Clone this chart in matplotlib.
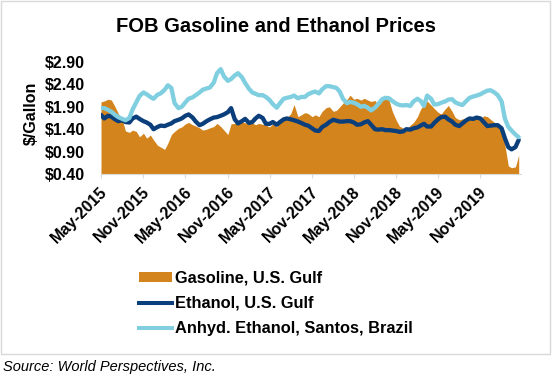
import pandas as pd
import numpy as np
import matplotlib.pyplot as plt
import matplotlib as mpl
from matplotlib.patches import Patch, Rectangle
from matplotlib.lines import Line2D
from matplotlib.transforms import ScaledTranslation

plt.rcParams['font.family'] = ['Liberation Sans', 'DejaVu Sans']

# semi-monthly observations, May 2015 - Apr 2020
dates = pd.date_range("2015-05-01", periods=120, freq="SMS")

gasoline = [2.01, 2.03, 2.07, 2.05, 1.90, 1.75, 1.62, 1.36, 1.33, 1.38,
            1.35, 1.23, 1.31, 1.20, 1.27, 1.16, 1.04, 1.00, 0.95, 1.09,
            1.28, 1.35, 1.42, 1.45, 1.52, 1.55, 1.50, 1.47, 1.43, 1.38,
            1.40, 1.43, 1.46, 1.53, 1.46, 1.38, 1.28, 1.52, 1.53, 1.55,
            1.57, 1.54, 1.57, 1.54, 1.50, 1.53, 1.51, 1.49, 1.45, 1.52,
            1.45, 1.60, 1.62, 1.65, 1.75, 1.95, 1.68, 1.72, 1.77, 1.75,
            1.68, 1.72, 1.68, 1.80, 1.88, 1.90, 1.80, 1.82, 1.90, 1.98,
            2.06, 2.16, 2.07, 2.09, 2.05, 2.09, 2.05, 2.02, 2.04, 1.94,
            2.06, 2.13, 2.04, 1.80, 1.60, 1.47, 1.42, 1.40, 1.49, 1.55,
            1.68, 1.85, 1.95, 2.03, 1.94, 1.86, 1.78, 1.74, 1.85, 1.93,
            1.80, 1.66, 1.61, 1.63, 1.64, 1.62, 1.63, 1.64, 1.62, 1.70,
            1.68, 1.62, 1.55, 1.49, 1.40, 1.05, 0.58, 0.54, 0.56, 0.82]

ethanol_gulf = [1.72, 1.64, 1.70, 1.68, 1.62, 1.58, 1.60, 1.56, 1.55, 1.64,
                1.68, 1.63, 1.58, 1.55, 1.50, 1.40, 1.45, 1.48, 1.47, 1.50,
                1.53, 1.58, 1.61, 1.64, 1.70, 1.73, 1.66, 1.57, 1.49, 1.52,
                1.58, 1.62, 1.66, 1.67, 1.70, 1.73, 1.78, 1.87, 1.62, 1.53,
                1.58, 1.63, 1.54, 1.56, 1.64, 1.70, 1.65, 1.52, 1.52, 1.56,
                1.50, 1.56, 1.62, 1.64, 1.62, 1.60, 1.57, 1.54, 1.50, 1.48,
                1.42, 1.37, 1.36, 1.45, 1.50, 1.56, 1.61, 1.59, 1.57, 1.57,
                1.58, 1.58, 1.55, 1.50, 1.51, 1.55, 1.58, 1.50, 1.40, 1.39,
                1.40, 1.38, 1.38, 1.37, 1.36, 1.34, 1.35, 1.40, 1.39, 1.42,
                1.44, 1.48, 1.52, 1.46, 1.46, 1.54, 1.62, 1.67, 1.68, 1.62,
                1.57, 1.50, 1.47, 1.53, 1.60, 1.64, 1.63, 1.66, 1.64, 1.56,
                1.47, 1.48, 1.49, 1.49, 1.42, 1.20, 1.00, 0.95, 1.00, 1.16]

anhydrous_santos = [1.87, 1.87, 1.83, 1.79, 1.72, 1.67, 1.63, 1.60, 1.65, 1.84,
                    2.00, 2.14, 2.22, 2.18, 2.12, 2.08, 2.17, 2.20, 2.28, 2.38,
                    2.32, 1.98, 1.87, 1.90, 2.00, 2.08, 2.11, 2.16, 2.22, 2.28,
                    2.31, 2.33, 2.44, 2.65, 2.74, 2.58, 2.48, 2.52, 2.60, 2.65,
                    2.56, 2.43, 2.30, 2.22, 2.19, 2.16, 2.16, 2.12, 2.05, 1.96,
                    1.88, 1.98, 2.08, 2.10, 2.12, 2.15, 2.09, 2.12, 2.12, 2.18,
                    2.22, 2.24, 2.20, 2.29, 2.36, 2.36, 2.34, 2.32, 2.24, 2.08,
                    1.98, 2.01, 1.99, 1.96, 1.90, 1.92, 1.88, 1.82, 1.88, 1.96,
                    2.07, 2.10, 2.09, 2.03, 1.97, 1.94, 1.93, 1.94, 1.92, 2.02,
                    2.08, 2.03, 1.92, 2.15, 2.08, 1.95, 1.96, 1.99, 2.02, 2.06,
                    2.07, 2.00, 1.96, 1.94, 2.03, 2.10, 2.13, 2.15, 2.18, 2.22,
                    2.26, 2.27, 2.22, 2.16, 2.02, 1.64, 1.45, 1.37, 1.28, 1.22]

yticks = [0.40, 0.90, 1.40, 1.90, 2.40, 2.90]
xticks = pd.date_range("2015-05-01", "2019-11-01", freq="6MS")

labels = ['Gasoline, U.S. Gulf', 'Ethanol, U.S. Gulf', 'Anhyd. Ethanol, Santos, Brazil']
col_gas = '#D4841C'
col_eth = '#0B3F7C'
col_anh = '#7FCFE0'

fig = plt.figure(figsize=(5.54, 3.77), dpi=100)
ax = fig.add_axes([101/554, 1 - 174/377, 420/554, 112/377])

ax.fill_between(dates, 0.4, gasoline, color=col_gas, lw=0)
ax.plot(dates, ethanol_gulf, color=col_eth, lw=3.1, solid_capstyle='round')
ax.plot(dates, anhydrous_santos, color=col_anh, lw=3.1, solid_capstyle='round')

ax.set_ylim(0.4, 2.9)
ax.set_xlim(pd.Timestamp("2015-05-01"), pd.Timestamp("2020-04-25"))
ax.set_yticks(yticks)
ax.yaxis.set_major_formatter(mpl.ticker.FuncFormatter(lambda v, p: '${:.2f}'.format(v)))
ax.tick_params(axis='y', length=0, pad=11.5, labelsize=11.5)
ax.set_xticks(xticks)
ax.xaxis.set_major_formatter(mpl.dates.DateFormatter('%b-%Y'))
ax.tick_params(axis='x', length=3, color='#D9D9D9', pad=8, labelsize=11.5)
for lab in ax.get_xticklabels():
    lab.set_rotation(45)
    lab.set_ha('right')
    lab.set_va('center')
    lab.set_rotation_mode('anchor')
    lab.set_transform(lab.get_transform() + ScaledTranslation(4/100, 0, fig.dpi_scale_trans))
for lab in ax.get_xticklabels() + ax.get_yticklabels():
    lab.set_fontweight('bold')

for s in ['top', 'right', 'left']:
    ax.spines[s].set_visible(False)
ax.spines['bottom'].set_color('#D9D9D9')

fig.text(276/554, 1 - 27/377, 'FOB Gasoline and Ethanol Prices', ha='center', va='center',
         fontsize=14.5, fontweight='bold')
fig.text(31/554, 1 - 113.5/377, '$/Gallon', rotation=90, ha='center', va='center',
         fontsize=11.5, fontweight='bold')

handles = [Patch(facecolor=col_gas, edgecolor='none'),
           Line2D([], [], color=col_eth, lw=2.9),
           Line2D([], [], color=col_anh, lw=2.9)]
fig.legend(handles, labels, loc='center left', bbox_to_anchor=(139/554, 1 - 303.5/377),
           frameon=False, prop={'weight': 'bold', 'size': 11.8}, borderpad=0, borderaxespad=0,
           handlelength=2.0, handleheight=0.5, handletextpad=0.2, labelspacing=0.62)

fig.add_artist(Rectangle((0.5/554, 1 - 354/377), 549.5/554, 353.5/377, transform=fig.transFigure,
                         fill=False, edgecolor='#D9D9D9', lw=1))
fig.text(3/554, 1 - 367/377, 'Source: World Perspectives, Inc.', ha='left', va='center',
         fontsize=10.5, style='italic')

fig.savefig('out.png', dpi=100)
